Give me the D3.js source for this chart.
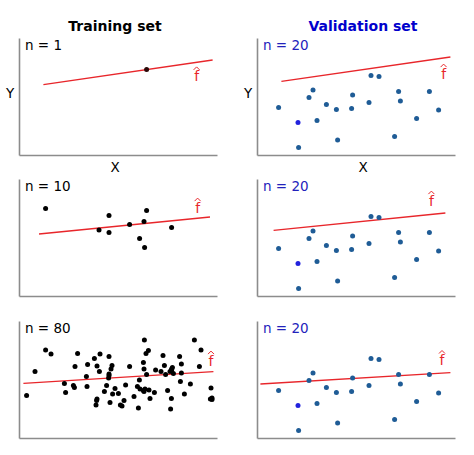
<!DOCTYPE html>
<html>
<head>
<meta charset="utf-8">
<script src="https://cdn.jsdelivr.net/npm/d3@7"></script>
<style>
  body { margin: 0; background: #fff; }
  text { font-family: "DejaVu Sans", sans-serif; }
</style>
</head>
<body>
<script>
// training sets (x in 0..9.9, y in 0..5.85)
const train1X = [6.38];
const train1Y = [4.27];

const train10X = [1.33, 4.00, 4.50, 4.50, 5.53, 6.25, 6.38, 6.03, 6.28, 7.63];
const train10Y = [4.38, 3.30, 4.02, 3.17, 3.57, 3.73, 4.27, 2.88, 2.42, 3.42];

const train80X = [0.38, 0.80, 1.33, 1.60, 2.27, 2.33, 2.72, 2.77, 2.80, 2.93,
                  3.37, 3.40, 3.43, 3.77, 3.85, 3.90, 3.90, 4.02, 4.05, 4.27,
                  4.38, 4.50, 4.50, 4.48, 4.55, 4.60, 4.65, 4.68, 4.80, 4.97,
                  5.07, 5.15, 5.25, 5.33, 5.53, 5.75, 5.92, 5.97, 6.02, 6.05,
                  6.22, 6.25, 6.27, 6.25, 6.30, 6.35, 6.38, 6.47, 6.50, 6.55,
                  6.77, 6.83, 7.10, 7.20, 7.27, 7.33, 7.43, 7.55, 7.58, 7.62,
                  7.63, 7.67, 7.72, 8.03, 8.07, 8.12, 8.12, 8.27, 8.57, 8.77,
                  9.02, 9.10, 9.60, 9.57, 9.65, 6.22, 7.63, 9.65, 4.50, 3.88];
const train80Y = [2.12, 3.32, 4.40, 4.20, 2.73, 2.28, 2.62, 2.53, 3.58, 4.23,
                  3.07, 2.57, 3.67, 3.98, 1.65, 1.95, 3.60, 3.32, 4.20, 2.33,
                  2.62, 4.07, 3.20, 3.00, 1.78, 3.45, 3.62, 2.20, 2.48, 2.23,
                  1.65, 1.60, 1.87, 2.65, 3.58, 2.07, 2.57, 1.50, 2.90, 2.45,
                  3.78, 3.45, 4.90, 2.33, 2.45, 4.23, 3.17, 4.37, 2.40, 1.98,
                  2.28, 3.40, 3.32, 4.12, 3.62, 3.17, 2.37, 3.32, 1.45, 1.98,
                  3.45, 3.53, 3.23, 4.07, 2.82, 3.70, 3.25, 2.20, 2.70, 4.90,
                  3.57, 4.40, 2.50, 1.95, 2.00, 2.37, 3.40, 1.92, 3.12, 1.87];

// validation set, same 20 points in every row
const validX = [1.08, 2.05, 2.08, 2.60, 2.80, 3.00, 3.47, 3.97, 4.03, 4.73,
                4.78, 5.60, 5.70, 6.10, 6.88, 7.08, 7.17, 7.98, 8.62, 9.08];
const validY = [2.38, 1.63, 0.37, 2.88, 3.25, 1.72, 2.53, 2.28, 0.75, 2.32,
                3.00, 2.63, 3.97, 3.93, 0.93, 3.17, 2.70, 1.82, 3.17, 2.25];
const highlighted = 1;

// fitted line ends per row: [left panel, right panel]
const fitX0 = [[1.22, 1.22], [1.00, 0.83], [0.22, 0.17]];
const fitX1 = [[9.68, 9.67], [9.55, 9.42], [9.72, 9.67]];
const fitY0 = [[3.52, 3.68], [3.10, 3.28], [2.73, 2.70]];
const fitY1 = [[4.75, 4.90], [3.95, 4.15], [3.32, 3.27]];

// where the f-hat label sits, in data units
const hatX = [[8.88, 9.33], [8.93, 8.72], [9.60, 9.25]];
const hatY = [[3.68, 3.82], [4.17, 4.52], [3.62, 3.65]];

const nLabels = [["n = 1", "n = 20"], ["n = 10", "n = 20"], ["n = 80", "n = 20"]];
const titles = ["Training set", "Validation set"];

const width = 474;
const height = 455;
const panelW = 198;
const panelH = 117;
const colLeft = [19, 257];
const rowTop = [38, 179, 321];
const labelMid = [96, 106];   // title / X label centre inside each column
const red = '#e8262b';

const trainSets = [
  d3.zip(train1X, train1Y),
  d3.zip(train10X, train10Y),
  d3.zip(train80X, train80Y)
];
const validSet = d3.zip(validX, validY);

const x = d3.scaleLinear().domain([0, 9.9]).range([0, panelW]);
const y = d3.scaleLinear().domain([0, 5.85]).range([panelH, 0]);

const svg = d3.select('body').append('svg')
    .attr('width', width)
    .attr('height', height);

// column titles
svg.selectAll('.title')
    .data(titles)
    .enter()
    .append('text')
    .attr('class', 'title')
    .attr('x', (d, i) => colLeft[i] + labelMid[i])
    .attr('y', 31)
    .attr('text-anchor', 'middle')
    .attr('font-size', 14)
    .attr('font-weight', 'bold')
    .attr('fill', (d, i) => i ? '#0000cc' : '#000')
    .text(d => d);

for (let r = 0; r < 3; r++) {
  for (let c = 0; c < 2; c++) {
    const g = svg.append('g')
        .attr('transform', `translate(${colLeft[c]},${rowTop[r]})`);

    g.append('g')
        .attr('class', 'axis')
        .call(d3.axisLeft(y).tickValues([]).tickSizeOuter(0));
    g.append('g')
        .attr('class', 'axis')
        .attr('transform', `translate(0,${panelH})`)
        .call(d3.axisBottom(x).tickValues([]).tickSizeOuter(0));
    g.selectAll('.axis path')
        .attr('stroke', '#8c8c8c')
        .attr('stroke-width', 1.6);

    const pts = c === 0 ? trainSets[r] : validSet;

    g.append('line')
        .attr('x1', x(fitX0[r][c]))
        .attr('y1', y(fitY0[r][c]))
        .attr('x2', x(fitX1[r][c]))
        .attr('y2', y(fitY1[r][c]))
        .attr('stroke', red)
        .attr('stroke-width', 1.3);

    g.selectAll('circle')
        .data(pts)
        .enter()
        .append('circle')
        .attr('cx', d => x(d[0]))
        .attr('cy', d => y(d[1]))
        .attr('r', 2.5)
        .attr('fill', (d, i) => {
          if (c === 0) return r === 0 ? '#2a0808' : '#000';
          return i === highlighted ? '#2222dd' : '#1f5c96';
        });

    // f-hat label: the f as text, the hat as a small stroke above it
    const hx = x(hatX[r][c]);
    const hy = y(hatY[r][c]);
    g.append('text')
        .attr('x', hx)
        .attr('y', hy)
        .attr('text-anchor', 'middle')
        .attr('font-size', 14)
        .attr('fill', red)
        .text('f');
    g.append('path')
        .attr('d', `M${hx - 3},${hy - 11.5}L${hx},${hy - 14.5}L${hx + 3},${hy - 11.5}`)
        .attr('fill', 'none')
        .attr('stroke', red)
        .attr('stroke-width', 1);

    g.append('text')
        .attr('x', 6)
        .attr('y', 12)
        .attr('font-size', 13.5)
        .attr('fill', c === 0 ? '#000' : '#2222bb')
        .text(nLabels[r][c]);

    if (r === 0) {
      g.append('text')
          .attr('x', -9)
          .attr('y', 60)
          .attr('text-anchor', 'middle')
          .attr('font-size', 13.5)
          .text('Y');
      g.append('text')
          .attr('x', labelMid[c])
          .attr('y', panelH + 17)
          .attr('text-anchor', 'middle')
          .attr('font-size', 13.5)
          .text('X');
    }
  }
}
</script>
</body>
</html>
